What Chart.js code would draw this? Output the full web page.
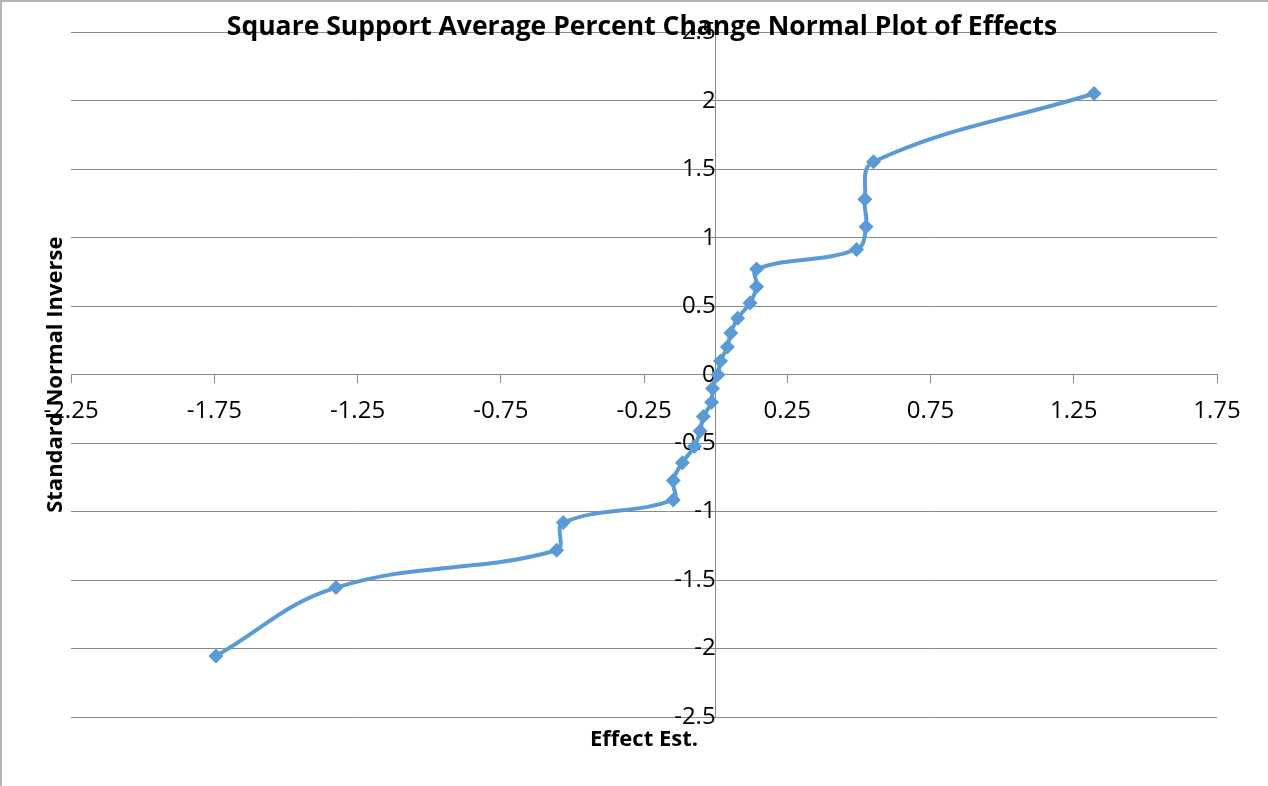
<!DOCTYPE html>
<html>
<head>
<meta charset="utf-8">
<title>Square Support Average Percent Change Normal Plot of Effects</title>
<script src="https://cdn.jsdelivr.net/npm/chart.js@4.4.1/dist/chart.umd.min.js"></script>
<style>
  html, body { margin: 0; padding: 0; background: #fff; }
  #wrap { position: relative; width: 1268px; height: 786px; }
</style>
</head>
<body>
<div id="wrap"><canvas id="effectsChart"></canvas></div>
<script>
// values
var chartTitle = 'Square Support Average Percent Change Normal Plot of Effects';
var xTitle = 'Effect Est.';
var yTitle = 'Standard Normal Inverse';

var effectEst = [-1.744, -1.325, -0.555, -0.532, -0.148, -0.148, -0.116, -0.074, -0.054,
  -0.043, -0.014, -0.011, 0.008, 0.017, 0.041, 0.053, 0.077, 0.120, 0.143, 0.143,
  0.492, 0.525, 0.521, 0.551, 1.321];
var normalInverse = [-2.054, -1.555, -1.282, -1.080, -0.915, -0.772, -0.643, -0.524, -0.412,
  -0.305, -0.202, -0.100, 0.000, 0.100, 0.202, 0.305, 0.412, 0.524, 0.643, 0.772,
  0.915, 1.080, 1.282, 1.555, 2.054];

var xTickValues = [-2.25, -1.75, -1.25, -0.75, -0.25, 0.25, 0.75, 1.25, 1.75];
var yTickValues = [-2.5, -2, -1.5, -1, -0.5, 0, 0.5, 1, 1.5, 2, 2.5];

var gridGray = '#8a8a8a';
var lineBlue = '#5b9bd5';

var points = effectEst.map(function (x, i) {
  return { x: x, y: normalInverse[i] };
});

// Excel-ish frame + titles drawn straight on the canvas
var excelTitles = {
  id: 'excelTitles',
  beforeDraw: function (chart) {
    var ctx = chart.ctx;
    ctx.save();
    ctx.fillStyle = '#fff';
    ctx.fillRect(0, 0, chart.width, chart.height);
    ctx.strokeStyle = '#b4b4b4';
    ctx.lineWidth = 2;
    ctx.beginPath();
    ctx.moveTo(1, chart.height);
    ctx.lineTo(1, 1);
    ctx.lineTo(chart.width, 1);
    ctx.stroke();
    ctx.restore();
  },
  afterDraw: function (chart) {
    var ctx = chart.ctx, area = chart.chartArea;
    var midX = (area.left + area.right) / 2;
    var midY = (area.top + area.bottom) / 2;
    ctx.save();
    ctx.fillStyle = '#000';
    ctx.textAlign = 'center';
    ctx.textBaseline = 'alphabetic';
    ctx.font = 'bold 26.5px "Open Sans"';
    ctx.fillText(chartTitle, 642, 35);
    ctx.font = 'bold 22px "Open Sans"';
    ctx.fillText(xTitle, midX, 746);
    ctx.translate(62, midY);
    ctx.rotate(-Math.PI / 2);
    ctx.fillText(yTitle, 0, 0);
    ctx.restore();
  }
};

var ctx = document.getElementById('effectsChart').getContext('2d');
new Chart(ctx, {
  type: 'scatter',
  data: {
    datasets: [{
      label: 'Effects',
      data: points,
      showLine: true,
      borderColor: lineBlue,
      backgroundColor: lineBlue,
      borderWidth: 4,
      tension: 0.4,
      pointStyle: 'rectRot',
      pointRadius: 7.5,
      pointHoverRadius: 7.5,
      pointBorderWidth: 0
    }]
  },
  options: {
    responsive: true,
    maintainAspectRatio: false,
    animation: false,
    layout: { padding: { left: 71, right: 51, top: 30, bottom: 69 } },
    plugins: {
      legend: { display: false },
      title: { display: false },
      tooltip: { enabled: false }
    },
    scales: {
      x: {
        type: 'linear',
        position: { y: 0 },
        min: -2.25,
        max: 1.75,
        afterBuildTicks: function (scale) {
          scale.ticks = xTickValues.map(function (v) { return { value: v }; });
        },
        border: { display: true, color: gridGray, width: 1 },
        grid: { display: true, drawOnChartArea: false, drawTicks: true, tickLength: 8, color: gridGray },
        ticks: {
          autoSkip: false,
          maxRotation: 0,
          padding: 14,
          color: '#000',
          font: { family: 'Open Sans', size: 24 },
          callback: function (v) { return String(v); }
        }
      },
      y: {
        type: 'linear',
        position: { x: 0 },
        min: -2.5,
        max: 2.5,
        afterBuildTicks: function (scale) {
          scale.ticks = yTickValues.map(function (v) { return { value: v }; });
        },
        border: { display: true, color: gridGray, width: 1 },
        grid: { display: true, drawOnChartArea: true, drawTicks: true, tickLength: 8, color: gridGray },
        ticks: {
          autoSkip: false,
          padding: 18,
          color: '#000',
          font: { family: 'Open Sans', size: 24 },
          callback: function (v) { return String(v); }
        }
      }
    }
  },
  plugins: [excelTitles]
});
</script>
</body>
</html>
